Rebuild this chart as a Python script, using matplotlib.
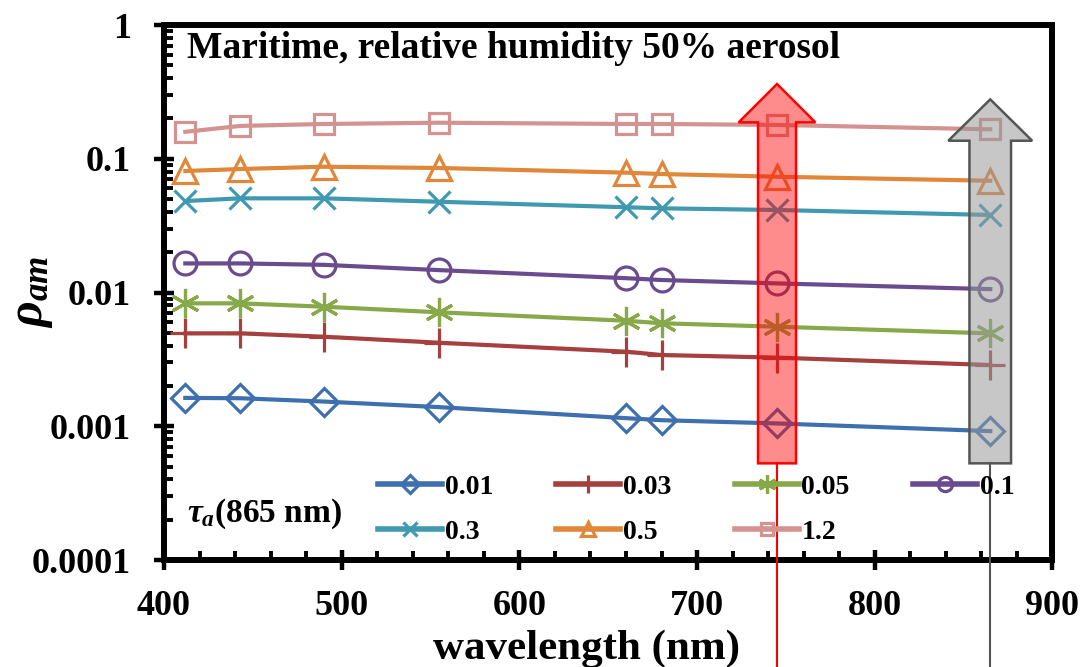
import matplotlib
matplotlib.use("Agg")
import matplotlib.pyplot as plt
from matplotlib.patches import Polygon
from matplotlib.ticker import FixedLocator, NullFormatter, FixedFormatter, MultipleLocator

plt.rcParams['font.family'] = ['Liberation Serif', 'DejaVu Serif']
plt.rcParams['font.weight'] = 'bold'
plt.rcParams['mathtext.fontset'] = 'custom'
plt.rcParams['mathtext.it'] = 'Liberation Serif:italic:bold'
plt.rcParams['mathtext.rm'] = 'Liberation Serif:bold'
plt.rcParams['mathtext.bf'] = 'Liberation Serif:bold'

wavelength = [412, 443, 490, 555, 660, 680, 745, 865]
tau_labels = ['0.01', '0.03', '0.05', '0.1', '0.3', '0.5', '1.2']
rho_001 = [0.00163, 0.00162, 0.00153, 0.00139, 0.00115, 0.00111, 0.00105, 0.00092]
rho_003 = [0.00495, 0.00495, 0.00467, 0.00421, 0.00361, 0.00341, 0.00326, 0.00287]
rho_005 = [0.0083, 0.0083, 0.00783, 0.00711, 0.00615, 0.00589, 0.00555, 0.00495]
rho_01 = [0.0165, 0.0165, 0.0161, 0.0147, 0.0128, 0.0124, 0.0117, 0.0106]
rho_03 = [0.0483, 0.0506, 0.0506, 0.0477, 0.0434, 0.0426, 0.0414, 0.0380]
rho_05 = [0.081, 0.0838, 0.0872, 0.0853, 0.0787, 0.0769, 0.0734, 0.0685]
rho_12 = [0.159, 0.176, 0.182, 0.186, 0.182, 0.182, 0.179, 0.166]
series = [rho_001, rho_003, rho_005, rho_01, rho_03, rho_05, rho_12]
colors = ['#3E6FAE', '#A5403E', '#87A94A', '#6A4C8E', '#3F99B1', '#E0873A', '#D49291']
markers = ['D', '+', (6, 2, 0), 'o', 'x', '^', 's']
msizes = [14, 21, 21, 16.5, 16, 17, 14]

arrow_x = [745, 865]

fig = plt.figure(figsize=(10.86, 6.67), dpi=100)
ax = fig.add_axes([0.1510, 0.1604, 0.8181, 0.8021])

handles = []
for vals, c, m, ms, lab in zip(series, colors, markers, msizes, tau_labels):
    h, = ax.plot(wavelength, vals, color=c, lw=3.0, marker=m, ms=ms,
                 mfc='none', mec=c, mew=2.3, label=lab, zorder=3)
    handles.append(h)

ax.set_yscale('log')
ax.set_xlim(400, 900)
ax.set_ylim(0.0001, 1)

ax.xaxis.set_major_locator(MultipleLocator(100))
ax.xaxis.set_minor_locator(MultipleLocator(20))
ax.yaxis.set_major_locator(FixedLocator([0.0001, 0.001, 0.01, 0.1, 1]))
ax.yaxis.set_major_formatter(FixedFormatter(['0.0001', '0.001', '0.01', '0.1', '1']))
minors = [m * 10.0**e for e in range(-4, 0) for m in range(2, 10)]
ax.yaxis.set_minor_locator(FixedLocator(minors))
ax.yaxis.set_minor_formatter(NullFormatter())

ax.tick_params(which='major', direction='inout', length=14, width=3.2, labelsize=26)
ax.tick_params(which='minor', direction='in', length=6.5, width=2.8)
ax.tick_params(axis='x', which='major', pad=14.5)
ax.tick_params(axis='y', which='major', pad=17)
for lab in ax.get_xticklabels() + ax.get_yticklabels():
    lab.set_fontweight('bold')
for s in ax.spines.values():
    s.set_linewidth(4.3)

ax.set_xlabel('wavelength (nm)', fontsize=31, fontweight='bold')
ax.xaxis.set_label_coords(0.4758, -0.185)
ax.xaxis.label.set_va('baseline')
ax.set_ylabel(r'$\rho_{am}$', fontsize=36)
ax.yaxis.set_label_coords(-0.1486, 0.501)
ax.yaxis.label.set_va('center')

ax.text(0.0259, 0.938, 'Maritime, relative humidity 50% aerosol', transform=ax.transAxes,
        fontsize=27, fontweight='bold', va='baseline', ha='left')
ax.text(0.0255, 0.0716, r'$\tau_a$(865 nm)', transform=ax.transAxes,
        fontsize=24, fontweight='bold', va='baseline', ha='left')

order = [0, 4, 1, 5, 2, 6, 3]
leg = ax.legend([handles[i] for i in order], [tau_labels[i] for i in order],
                ncol=4, loc='upper left', bbox_to_anchor=(0.2409, 0.1598),
                frameon=False, fontsize=20, handlelength=2.3, columnspacing=2.28,
                handletextpad=0.1, labelspacing=0.7, markerscale=0.62,
                borderpad=0, borderaxespad=0)
for t in leg.get_texts():
    t.set_fontweight('bold')
for lh in leg.legend_handles:
    lh.set_linewidth(4)

# arrows
trans = ax.get_xaxis_transform()
arrow_specs = [
    (arrow_x[0], 0.8897, 0.818, '#FF0000', '#FF0000', 0.45, 10.7, 21.6),
    (arrow_x[1], 0.861, 0.7837, '#555555', '#999999', 0.55, 11.7, 23.6),
]
for xc, tip, hb, ec, fc, al, sw, hw in arrow_specs:
    bottom = 0.1807
    pts = [(xc - sw, bottom), (xc - sw, hb), (xc - hw, hb), (xc, tip),
           (xc + hw, hb), (xc + sw, hb), (xc + sw, bottom)]
    ax.add_patch(Polygon(pts, closed=True, transform=trans, facecolor=fc,
                         alpha=al, edgecolor='none', zorder=4))
    ax.add_patch(Polygon(pts, closed=True, transform=trans, facecolor='none',
                         edgecolor=ec, lw=1.8, zorder=5))
    ax.plot([xc, xc], [bottom, -0.21], transform=trans, color=ec, lw=1.5,
            clip_on=False, zorder=5)

fig.savefig('out.png', dpi=100)
